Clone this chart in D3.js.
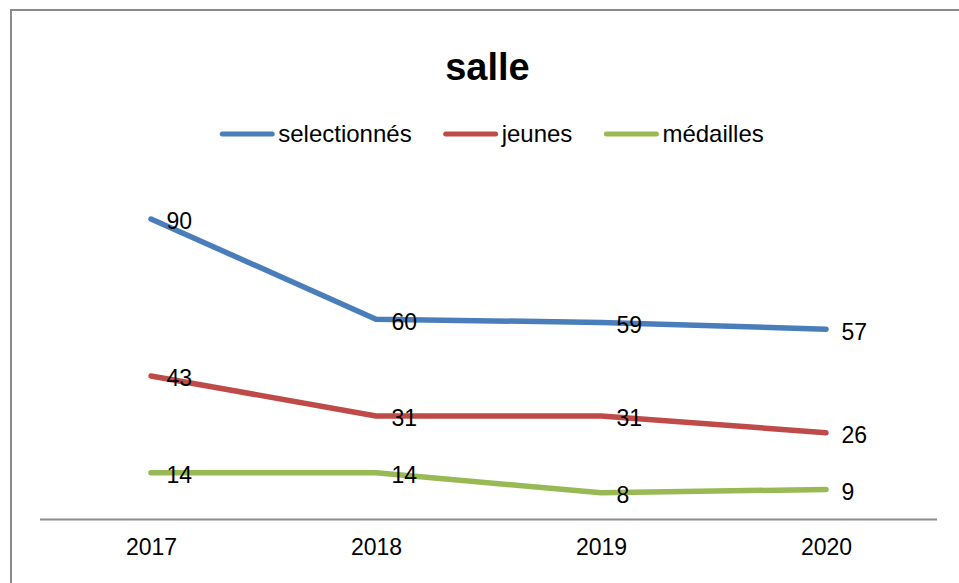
<!DOCTYPE html>
<html>
<head>
<meta charset="utf-8">
<script src="https://cdn.jsdelivr.net/npm/d3@7"></script>
<style>
  body { margin: 0; background: #fff; }
  text { font-family: "Liberation Sans", Arial, sans-serif; fill: #000; }
</style>
</head>
<body>
<div id="chart"></div>
<script>
const years = ["2017", "2018", "2019", "2020"];
const selectionnes = [90, 60, 59, 57];
const jeunes = [43, 31, 31, 26];
const medailles = [14, 14, 8, 9];

const seriesNames = ["selectionnés", "jeunes", "médailles"];
const seriesColors = ["#4a7ebb", "#be4b48", "#98b954"];
const seriesValues = [selectionnes, jeunes, medailles];

const width = 959, height = 583;

const svg = d3.select("#chart")
  .append("svg")
  .attr("width", width)
  .attr("height", height);

// chart frame
svg.append("rect")
  .attr("x", 11)
  .attr("y", 10)
  .attr("width", 960)
  .attr("height", 600)
  .attr("fill", "none")
  .attr("stroke", "#8a8a8a")
  .attr("stroke-width", 2);

svg.append("text")
  .attr("x", 487.5)
  .attr("y", 80)
  .attr("text-anchor", "middle")
  .attr("font-size", 38)
  .attr("font-weight", "bold")
  .text("salle");

const x = d3.scalePoint()
  .domain(years)
  .range([38.5, 938.5])
  .padding(0.5);

const y = d3.scaleLinear()
  .domain([0, 100])
  .range([519.5, 185.6]);

// x axis, no ticks
const xAxis = svg.append("g")
  .attr("transform", `translate(0,${y(0)})`)
  .call(d3.axisBottom(x).tickSize(0).tickPadding(19));

xAxis.select(".domain")
  .attr("d", "M40,0H937")
  .attr("stroke", "#8c8c8c")
  .attr("stroke-width", 2);

xAxis.selectAll(".tick text")
  .attr("font-size", 23)
  .attr("font-family", "Liberation Sans, Arial, sans-serif")
  .attr("fill", "#000")
  .attr("dy", "0.71em");

const line = d3.line()
  .x((d, i) => x(years[i]))
  .y(d => y(d));

seriesValues.forEach((vals, s) => {
  svg.append("path")
    .datum(vals)
    .attr("fill", "none")
    .attr("stroke", seriesColors[s])
    .attr("stroke-width", 5.5)
    .attr("stroke-linecap", "round")
    .attr("stroke-linejoin", "round")
    .attr("d", line);
});

// data labels, drawn above the lines
seriesValues.forEach((vals, s) => {
  svg.append("g")
    .selectAll("text")
    .data(vals)
    .enter()
    .append("text")
    .attr("x", (d, i) => x(years[i]) + 15.5)
    .attr("y", d => y(d) + 10.5)
    .attr("font-size", 23)
    .text(d => d);
});

// legend, laid out left to right then centred
const legend = svg.append("g");
let lx = 0;
seriesNames.forEach((name, s) => {
  const item = legend.append("g").attr("transform", `translate(${lx},0)`);
  item.append("line")
    .attr("x1", 2).attr("x2", 52)
    .attr("y1", 0).attr("y2", 0)
    .attr("stroke", seriesColors[s])
    .attr("stroke-width", 5)
    .attr("stroke-linecap", "round");
  const t = item.append("text")
    .attr("x", 58)
    .attr("y", 8)
    .attr("font-size", 24)
    .text(name);
  lx += 58 + t.node().getComputedTextLength() + 32;
});
const legendWidth = lx - 32;
legend.attr("transform", `translate(${492 - legendWidth / 2},134)`);
</script>
</body>
</html>
